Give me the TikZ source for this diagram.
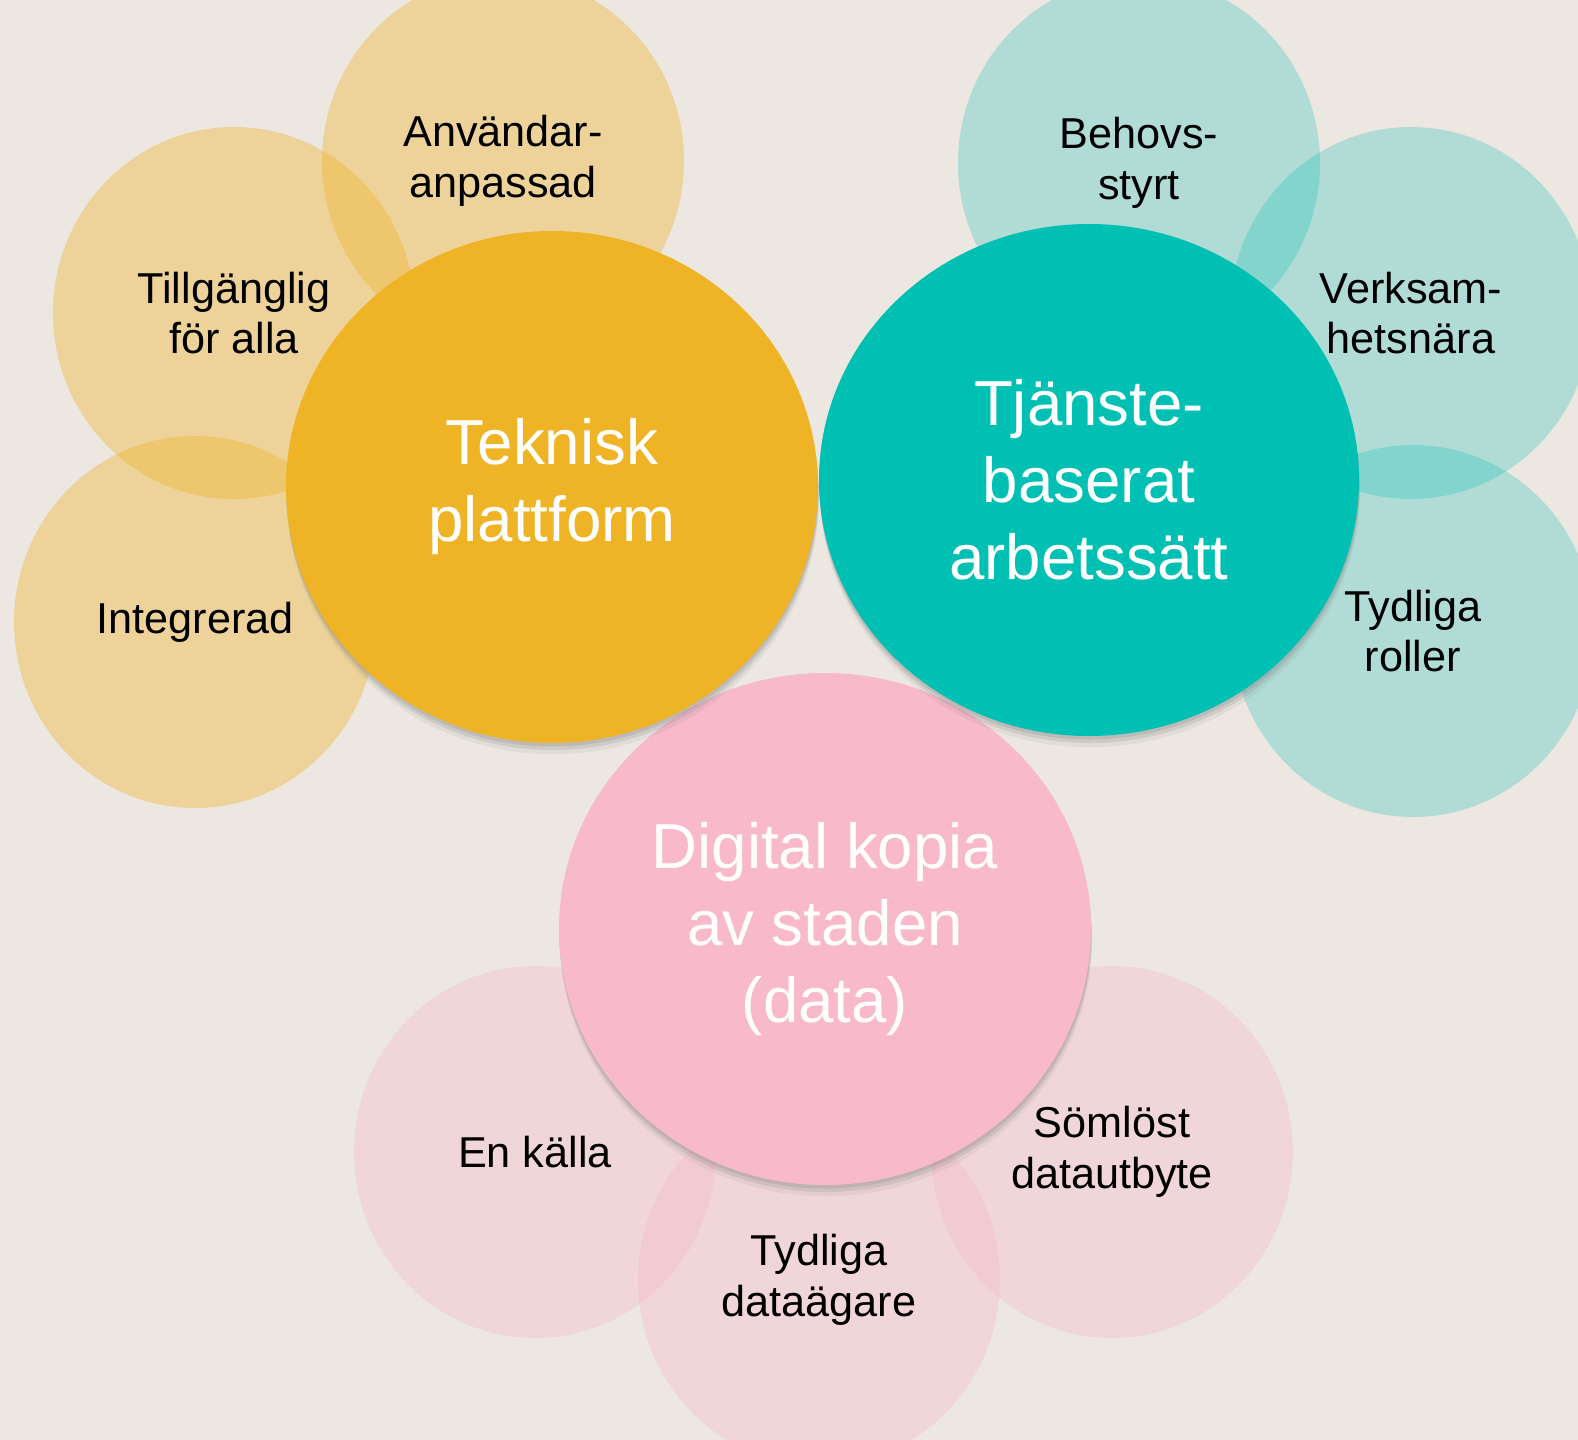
\documentclass[tikz,border=0pt]{standalone}
\usepackage{fontspec}
\setmainfont{Liberation Sans}
\usetikzlibrary{shapes.geometric,shadows}
\definecolor{bgbeige}{RGB}{236,231,225}
\definecolor{tekgul}{RGB}{239,179,38}
\definecolor{tjgron}{RGB}{0,191,179}
\definecolor{datarosa}{RGB}{248,185,202}
\begin{document}
\begin{tikzpicture}
	% three main areas, each with its own ring of properties
	[small/.style={ellipse,inner sep=0pt,minimum width=3.62cm,minimum height=3.72cm,align=center,font=\fontsize{12.3}{14.4}\selectfont},
	 big/.style={ellipse,inner sep=0pt,minimum width=5.32cm,minimum height=5.12cm,align=center,text=white,font=\fontsize{18.1}{21.9}\selectfont,
		drop shadow={shadow xshift=0.3pt,shadow yshift=-3.2pt,opacity=0.10},
		drop shadow={shadow xshift=0.2pt,shadow yshift=-2pt,opacity=0.18},
		drop shadow={shadow xshift=0.1pt,shadow yshift=-1pt,opacity=0.22}},
	 yel/.style={small,fill=tekgul,fill opacity=0.38,text opacity=1},
	 grn/.style={small,fill=tjgron,fill opacity=0.25,text opacity=1},
	 ros/.style={small,fill=datarosa,fill opacity=0.36,text opacity=1}]
	\fill[bgbeige] (0,0) rectangle (15.78,-14.40);
	\useasboundingbox (0,0) rectangle (15.78,-14.40);
	\clip (0,0) rectangle (15.78,-14.40);

	\node[yel] (anv) at (5.03,-1.61) {Användar-\\anpassad};
	\node[yel] (till) at (2.34,-3.13) {Tillgänglig\\för alla};
	\node[yel] (integ) at (1.95,-6.22) {Integrerad};

	\node[grn] (behov) at (11.39,-1.63) {Behovs-\\styrt};
	\node[grn] (verk) at (14.11,-3.13) {Verksam-\\hetsnära};
	\node[grn] (roll) at (14.13,-6.31) {Tydliga\\roller};

	\node[ros] (kalla) at (5.35,-11.52) {En källa};
	\node[ros] (agare) at (8.19,-12.80) {Tydliga\\dataägare};
	\node[ros] (utbyte) at (11.12,-11.52) {Sömlöst\\datautbyte};

	\node[big,fill=datarosa] (kopia) at (8.25,-9.29) {Digital kopia\\av staden\\(data)};
	\node[big,fill=tekgul] (teknisk) at (5.52,-4.87) {Teknisk\\plattform};
	\node[big,fill=tjgron,minimum width=5.40cm] (tjanst) at (10.89,-4.80) {Tjänste-\\baserat\\arbetssätt};
\end{tikzpicture}
\end{document}
